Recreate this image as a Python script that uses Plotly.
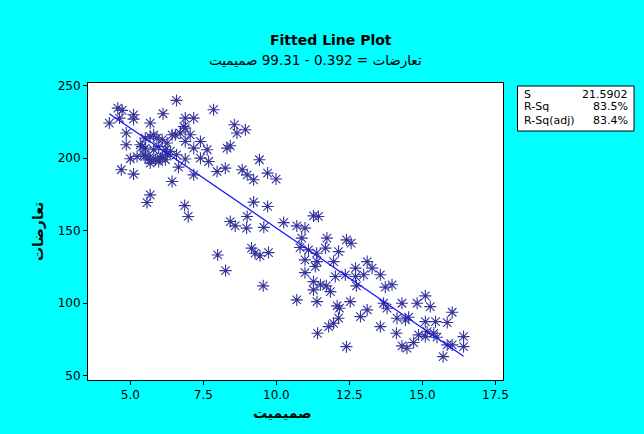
import numpy as np
import plotly.graph_objects as go

# Data (x = صميميت, y = تعارضات)
x_vals = [
    6.58, 4.57, 4.72, 5.11, 5.11, 4.28, 4.63, 6.12, 7.85, 6.88,
    7.17, 5.68, 8.56, 8.94, 8.65, 4.86, 6.88, 6.71, 7.05, 5.80,
    6.09, 6.43, 7.40, 6.88, 4.86, 5.40, 7.17, 7.63, 8.31, 8.42,
    6.58, 5.00, 5.51, 5.68, 6.03, 6.88, 7.40, 7.68, 6.65, 7.97,
    8.25, 4.69, 5.11, 7.17, 8.83, 9.00, 9.22, 9.42, 9.70, 9.99,
    6.43, 5.68, 5.57, 6.86, 6.98, 9.22, 9.70, 8.42, 9.00, 8.59,
    8.98, 9.57, 10.25, 5.51, 5.68, 5.91, 6.26, 5.34, 5.51, 5.80,
    5.97, 6.20, 6.37, 5.46, 5.63, 5.86, 6.09, 6.26, 5.23, 5.68,
    5.97, 6.20, 6.54, 6.83, 10.70, 10.98, 11.27, 10.87, 10.81, 11.10,
    11.38, 10.98, 10.98, 11.33, 11.27, 11.27, 9.15, 9.27, 9.44, 9.73,
    7.99, 8.26, 9.55, 10.70, 11.44, 11.73, 11.68, 12.13, 12.40, 12.56,
    11.39, 11.96, 11.51, 11.71, 11.85, 12.02, 12.36, 12.71, 12.71, 12.74,
    12.99, 13.11, 13.28, 13.56, 13.73, 13.96, 11.39, 12.08, 12.16, 12.53,
    12.13, 11.96, 11.79, 12.88, 13.11, 13.56, 13.67, 13.79, 14.30, 14.13,
    14.42, 14.53, 14.82, 15.10, 15.27, 15.10, 15.45, 15.85, 16.02, 14.11,
    11.41, 12.40, 14.30, 14.47, 14.70, 14.87, 15.10, 15.39, 15.50, 15.16,
    15.85, 16.02, 16.41, 16.41, 15.71,
]
y_vals = [
    239.7, 234.4, 232.8, 229.8, 226.8, 224.1, 227.5, 230.5, 233.3, 227.5,
    227.5, 224.1, 222.9, 219.5, 217.2, 217.2, 220.6, 217.2, 216.0, 216.0,
    212.6, 216.0, 211.4, 211.4, 209.1, 207.9, 206.8, 205.7, 206.8, 208.4,
    202.2, 199.5, 201.5, 198.8, 199.9, 199.3, 199.9, 197.6, 193.7, 190.7,
    193.0, 191.9, 188.9, 188.4, 191.9, 188.4, 185.0, 198.8, 189.6, 185.5,
    183.8, 174.6, 169.3, 167.2, 159.7, 169.6, 166.6, 156.2, 159.7, 153.2,
    151.7, 152.2, 155.5, 213.7, 214.8, 213.7, 210.3, 209.1, 206.8, 205.7,
    207.9, 205.7, 204.5, 202.2, 199.9, 198.8, 201.0, 202.2, 201.0, 196.5,
    197.6, 198.8, 216.0, 221.7, 153.2, 151.7, 160.1, 144.8, 138.3, 136.7,
    134.4, 129.8, 121.0, 125.2, 114.8, 109.1, 137.9, 134.4, 132.6, 134.8,
    133.2, 122.4, 111.9, 102.2, 159.7, 144.8, 137.9, 135.5, 143.6, 141.3,
    128.6, 128.6, 112.6, 111.9, 107.9, 118.3, 119.5, 124.1, 118.3, 111.9,
    119.5, 128.6, 124.1, 119.5, 111.0, 112.6, 101.0, 98.1, 96.5, 101.0,
    89.6, 86.1, 83.8, 90.7, 95.3, 83.8, 99.9, 96.5, 99.9, 89.6,
    88.4, 90.3, 99.9, 105.0, 97.6, 87.2, 87.2, 86.6, 93.7, 79.2,
    79.2, 70.0, 70.5, 68.9, 72.8, 78.1, 76.9, 79.2, 76.5, 80.3,
    71.2, 71.2, 76.9, 70.0, 63.1,
]

x_ticks = [5.0, 7.5, 10.0, 12.5, 15.0, 17.5]
x_tick_text = ["5.0", "7.5", "10.0", "12.5", "15.0", "17.5"]
y_ticks = [50, 100, 150, 200, 250]
y_tick_text = ["50", "100", "150", "200", "250"]

title_text = "Fitted Line Plot"
subtitle_text = "تعارضات = 0.392 - 99.31 صميميت"
x_title = "صميميت"
y_title = "تعارضات"
stat_names = ["S", "R-Sq", "R-Sq(adj)"]
stat_values = ["21.5902", "83.5%", "83.4%"]

FONT = "DejaVu Sans"

xa = np.array(x_vals)
ya = np.array(y_vals)
slope, intercept = np.polyfit(xa, ya, 1)
line_x = np.array([xa.min(), xa.max()])
line_y = intercept + slope * line_x

fig = go.Figure()
fig.add_trace(go.Scatter(
    x=x_vals, y=y_vals, mode="markers",
    marker=dict(symbol="asterisk-open", size=10, color="#33339A",
                line=dict(color="#33339A", width=1.1)),
    hoverinfo="x+y", showlegend=False,
))
fig.add_trace(go.Scatter(
    x=line_x, y=line_y, mode="lines",
    line=dict(color="#1010FF", width=1.2), showlegend=False,
))

# plot area in pixels: left 88, right 503, top 83, bottom 380
W, H = 644, 434
L, R, T, B = 88, 141, 83, 54
pw = W - L - R
ph = H - T - B


def px_x(p):
    return (p - L) / pw


def px_y(p):
    return (H - B - p) / ph


fig.update_layout(
    width=W, height=H,
    margin=dict(l=L, r=R, t=T, b=B, pad=0),
    paper_bgcolor="#00FFFF",
    plot_bgcolor="#FFFFFF",
    font=dict(family=FONT, size=12, color="#000000"),
    xaxis=dict(
        range=[3.55, 17.76], tickvals=x_ticks, ticktext=x_tick_text,
        ticks="outside", ticklen=4, tickcolor="#000000",
        showline=True, linecolor="#000000", linewidth=1, mirror=True,
        showgrid=False, zeroline=False,
        tickfont=dict(family=FONT, size=12),
    ),
    yaxis=dict(
        range=[47.0, 251.7], tickvals=y_ticks, ticktext=y_tick_text,
        ticks="outside", ticklen=4, tickcolor="#000000",
        showline=True, linecolor="#000000", linewidth=1, mirror=True,
        showgrid=False, zeroline=False,
        tickfont=dict(family=FONT, size=12),
    ),
    shapes=[dict(
        type="rect", xref="paper", yref="paper",
        x0=px_x(517.5), x1=px_x(634), y0=px_y(131), y1=px_y(86),
        line=dict(color="#000000", width=1), fillcolor="#FFFFFF",
    )],
)

ann = []
ann.append(dict(text="<b>" + title_text + "</b>", x=px_x(331), y=px_y(40),
                xref="paper", yref="paper", showarrow=False,
                xanchor="center", yanchor="middle",
                font=dict(family=FONT, size=14)))
ann.append(dict(text=subtitle_text, x=px_x(315), y=px_y(60),
                xref="paper", yref="paper", showarrow=False,
                xanchor="center", yanchor="middle",
                font=dict(family=FONT, size=13.5)))
ann.append(dict(text="<b>" + x_title + "</b>", x=px_x(282), y=px_y(413),
                xref="paper", yref="paper", showarrow=False,
                xanchor="center", yanchor="middle",
                font=dict(family=FONT, size=14)))
ann.append(dict(text="<b>" + y_title + "</b>", x=px_x(38), y=px_y(232),
                xref="paper", yref="paper", showarrow=False, textangle=-90,
                xanchor="center", yanchor="middle",
                font=dict(family=FONT, size=14)))
row_y = [94, 107, 120]
for name, val, ry in zip(stat_names, stat_values, row_y):
    ann.append(dict(text=name, x=px_x(522), y=px_y(ry), xref="paper", yref="paper",
                    showarrow=False, xanchor="left", yanchor="middle",
                    font=dict(family=FONT, size=11)))
    ann.append(dict(text=val, x=px_x(630), y=px_y(ry), xref="paper", yref="paper",
                    showarrow=False, xanchor="right", yanchor="middle",
                    font=dict(family=FONT, size=11)))
fig.update_layout(annotations=ann)

fig.write_html("out.html",
               config={"displayModeBar": False},
               post_script="document.body.style.margin='0';"
                           "document.body.style.background='#00FFFF';")
